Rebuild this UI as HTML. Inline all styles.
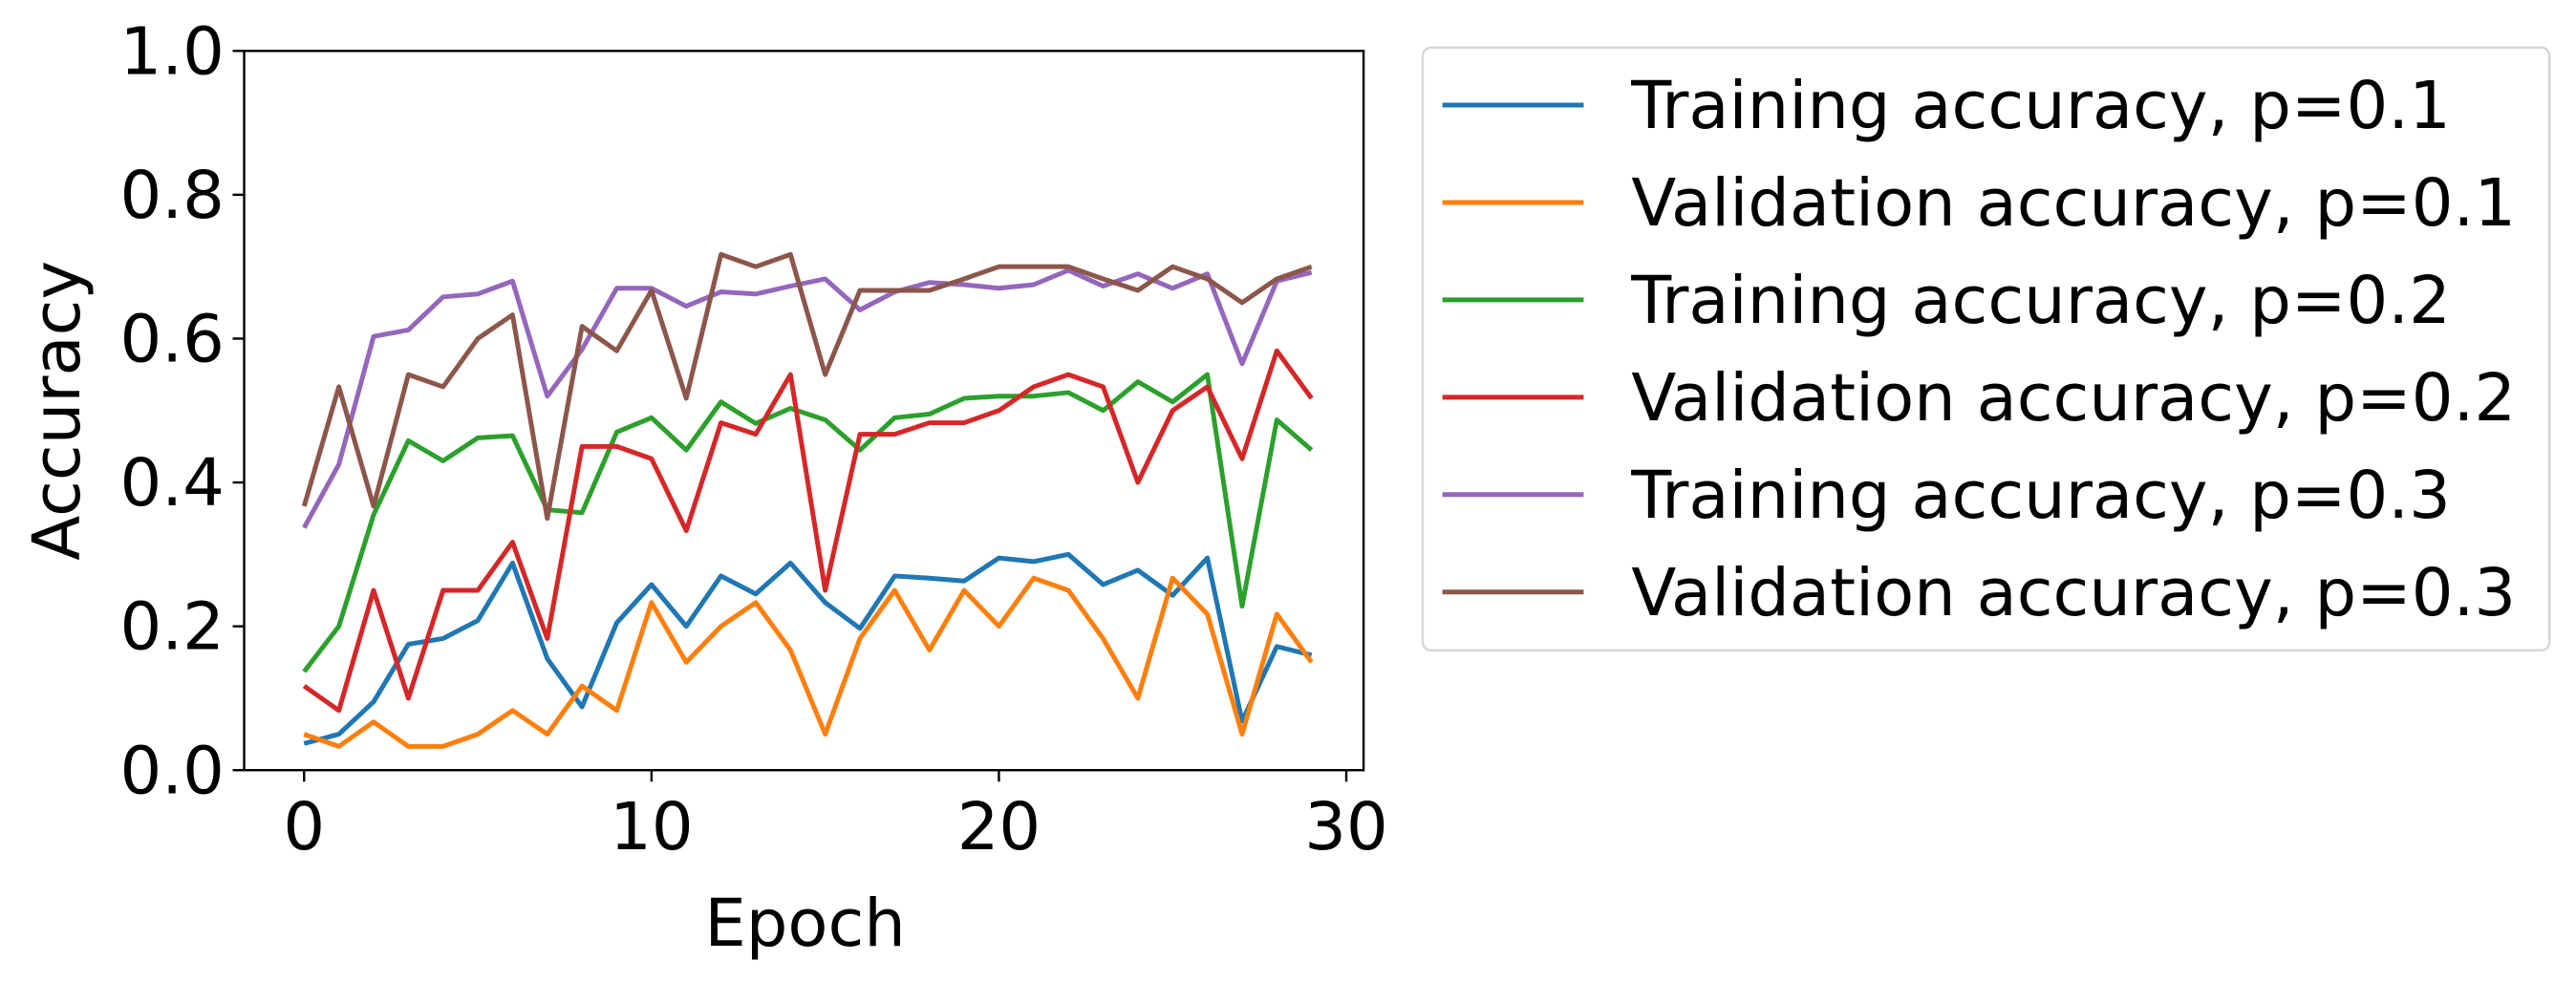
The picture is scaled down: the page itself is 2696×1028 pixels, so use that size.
<!DOCTYPE html>
<html><head><meta charset="utf-8"><style>
html,body{margin:0;padding:0;background:#fff;}
svg{display:block;}
text{font-family:"DejaVu Sans","Liberation Sans",sans-serif;fill:#000;}
</style></head><body>
<svg id="chart" width="2696" height="1028" viewBox="0 0 1568 598" xmlns="http://www.w3.org/2000/svg">
<g id="plot"></g>
<g id="axes"></g>
<g id="legend"></g>
</svg>
<script>
const epochs = Array.from({length:30},(_,i)=>i);
const train01 = [0.037,0.05,0.095,0.175,0.183,0.208,0.288,0.155,0.088,0.205,0.258,0.2,0.27,0.245,0.288,0.233,0.197,0.27,0.267,0.263,0.295,0.29,0.3,0.258,0.278,0.243,0.295,0.068,0.172,0.16];
const val01 = [0.05,0.033,0.067,0.033,0.033,0.05,0.083,0.05,0.117,0.083,0.233,0.15,0.2,0.233,0.167,0.05,0.183,0.25,0.167,0.25,0.2,0.267,0.25,0.183,0.1,0.267,0.217,0.05,0.217,0.15];
const train02 = [0.137,0.2,0.355,0.458,0.43,0.462,0.465,0.362,0.358,0.47,0.49,0.445,0.512,0.482,0.503,0.487,0.445,0.49,0.495,0.517,0.52,0.52,0.525,0.5,0.54,0.512,0.55,0.228,0.487,0.445];
const val02 = [0.117,0.083,0.25,0.1,0.25,0.25,0.317,0.183,0.45,0.45,0.433,0.333,0.483,0.467,0.55,0.25,0.467,0.467,0.483,0.483,0.5,0.533,0.55,0.533,0.4,0.5,0.533,0.433,0.583,0.517];
const train03 = [0.337,0.425,0.603,0.612,0.658,0.662,0.68,0.52,0.585,0.67,0.67,0.645,0.665,0.662,0.673,0.683,0.64,0.665,0.678,0.675,0.67,0.675,0.695,0.673,0.69,0.67,0.69,0.565,0.68,0.692];
const val03 = [0.367,0.533,0.367,0.55,0.533,0.6,0.633,0.35,0.617,0.583,0.667,0.517,0.717,0.7,0.717,0.55,0.667,0.667,0.667,0.683,0.7,0.7,0.7,0.683,0.667,0.7,0.683,0.65,0.683,0.7];
const seriesLabels = ["Training accuracy, p=0.1","Validation accuracy, p=0.1","Training accuracy, p=0.2","Validation accuracy, p=0.2","Training accuracy, p=0.3","Validation accuracy, p=0.3"];
const xTicks = [0,10,20,30];
const yTicks = [0,0.2,0.4,0.6,0.8,1.0];
const yTickLabels = ["0.0","0.2","0.4","0.6","0.8","1.0"];

const NS="http://www.w3.org/2000/svg";
const L=148.5,R=830,T=31,B=469;
const FS=40;
const xs=v=>185+v*21.15;
const ys=v=>B-(v-0)*(B-T)/1.0;
const colors=["#1f77b4","#ff7f0e","#2ca02c","#d62728","#9467bd","#8c564b"];
const allSeries=[train01,val01,train02,val02,train03,val03];
function mk(tag,attrs,parent){const e=document.createElementNS(NS,tag);for(const k in attrs)e.setAttribute(k,attrs[k]);parent.appendChild(e);return e;}
const plot=document.getElementById('plot'),axes=document.getElementById('axes'),legend=document.getElementById('legend');

allSeries.forEach((s,i)=>{
  const p=mk('polyline',{points:s.map((v,j)=>xs(epochs[j])+','+ys(v)).join(' '),fill:'none',stroke:colors[i],'stroke-width':2.9,'stroke-linejoin':'round'},plot);
  
  
});
const frame=mk('rect',{x:L,y:T,width:R-L,height:B-T,fill:'none',stroke:'#000','stroke-width':1.4},axes);


xTicks.forEach(t=>{
  const tk=mk('line',{x1:xs(t),x2:xs(t),y1:B,y2:B+7,stroke:'#000','stroke-width':1.4},axes);
  
  
  const tx=mk('text',{x:xs(t),y:B+48,'font-size':FS,'text-anchor':'middle'},axes);
  tx.textContent=t;
  
  
});
yTicks.forEach((t,i)=>{
  const tk=mk('line',{x1:L-7,x2:L,y1:ys(t),y2:ys(t),stroke:'#000','stroke-width':1.4},axes);
  
  
  const tx=mk('text',{x:L-12,y:ys(t)+14,'font-size':FS,'text-anchor':'end'},axes);
  tx.textContent=yTickLabels[i];
  
  
});
const xt=mk('text',{x:490,y:576,'font-size':FS,'text-anchor':'middle'},axes);
xt.textContent='Epoch';


const yt=mk('text',{x:0,y:0,'font-size':FS,'text-anchor':'middle',transform:'translate(48,250) rotate(-90)'},axes);
yt.textContent='Accuracy';



const lb=mk('rect',{x:866,y:29,width:686,height:367,rx:5,fill:'#fff',stroke:'#d6d6d6','stroke-width':1.4},legend);


seriesLabels.forEach((lab,i)=>{
  const y=64+i*59.3;
  const ln=mk('line',{x1:878,x2:964,y1:y,y2:y,stroke:colors[i],'stroke-width':2.9},legend);
  
  
  const tx=mk('text',{x:993,y:y+14,'font-size':FS},legend);
  tx.textContent=lab;
  
  
});
</script>
</body></html>
